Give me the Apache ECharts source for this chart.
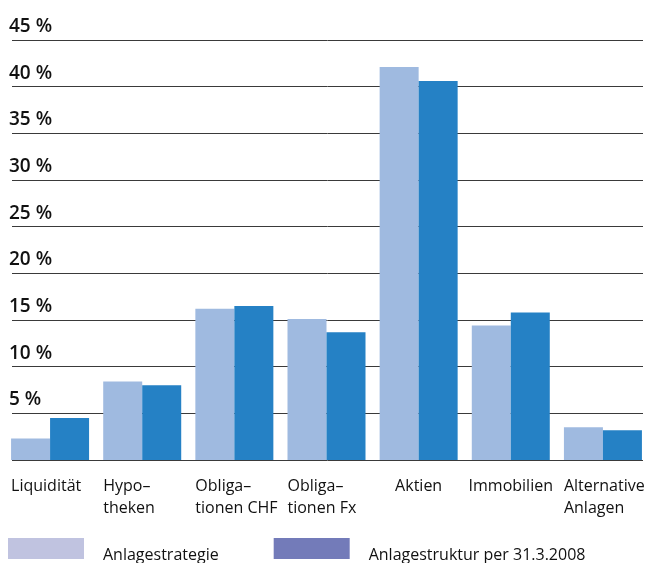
<!DOCTYPE html>
<html>
<head>
<meta charset="utf-8">
<script src="https://cdn.jsdelivr.net/npm/echarts@6/dist/echarts.min.js"></script>
<style>
html,body{margin:0;padding:0;background:#fff;}
#chart{width:649px;height:563px;}
</style>
</head>
<body>
<div id="chart"></div>
<script>
const categories = ['Liquidität', 'Hypo–\ntheken', 'Obliga–\ntionen CHF', 'Obliga–\ntionen Fx', 'Aktien', 'Immobilien', 'Alternative\nAnlagen'];
const seriesNames = ['Anlagestrategie', 'Anlagestruktur per 31.3.2008'];
const anlagestrategie = [2.3, 8.4, 16.2, 15.1, 42.1, 14.4, 3.5];
const anlagestruktur = [4.5, 8.0, 16.5, 13.7, 40.6, 15.8, 3.2];
const yTickValues = [0, 5, 10, 15, 20, 25, 30, 35, 40, 45];
const yTickLabels = ['', '5 %', '10 %', '15 %', '20 %', '25 %', '30 %', '35 %', '40 %', '45 %'];

const FONT = '"Open Sans", sans-serif';
const centeredLabels = ['Aktien', 'Immobilien'];

const chart = echarts.init(document.getElementById('chart'), null, {renderer: 'canvas'});
chart.setOption({
  animation: false,
  backgroundColor: '#ffffff',
  legend: {
    left: 8,
    top: 538,
    padding: 0,
    itemWidth: 76,
    itemHeight: 21,
    itemGap: 55,
    icon: 'rect',
    selectedMode: false,
    formatter: function (name) { return '{a|' + name + '}'; },
    textStyle: {
      fontFamily: FONT, fontSize: 16, color: '#111111', padding: [0, 0, 0, 14],
      rich: {a: {fontFamily: FONT, fontSize: 16, color: '#111111', lineHeight: 30, verticalAlign: 'bottom'}}
    },
    data: [
      {name: seriesNames[0], itemStyle: {color: '#c0c3e0'}},
      {name: seriesNames[1], itemStyle: {color: '#737bb9'}}
    ]
  },
  grid: [
    {left: 12, right: 6, top: 40, bottom: 103},
    {left: 4, right: 0, top: 40, bottom: 103}
  ],
  xAxis: [
    {type: 'value', gridIndex: 0, show: false, min: 0, max: 1},
    {
      type: 'category', gridIndex: 1, data: categories,
      axisLine: {show: false}, axisTick: {show: false},
      axisLabel: {
        interval: 0, margin: 15,
        formatter: function (value) {
          const key = centeredLabels.indexOf(value) >= 0 ? 'c' : 'l';
          return value.split('\n').map(function (s) { return '{' + key + '|' + s + '}'; }).join('\n');
        },
        rich: {
          l: {width: 78, align: 'left', fontFamily: FONT, fontSize: 16, lineHeight: 22, color: '#111111'},
          c: {align: 'center', fontFamily: FONT, fontSize: 16, lineHeight: 22, color: '#111111'}
        }
      }
    }
  ],
  yAxis: [
    {
      type: 'value', gridIndex: 0, min: 0, max: 45, interval: 5,
      axisLine: {show: false}, axisTick: {show: false},
      splitLine: {show: true, lineStyle: {color: '#3a3a3a', width: 1}},
      axisLabel: {
        inside: true, margin: -3, align: 'left', verticalAlign: 'bottom',
        padding: [0, 0, 4, 0],
        fontFamily: FONT, fontSize: 19, fontWeight: 600, color: '#111111',
        formatter: function (v) { return yTickLabels[yTickValues.indexOf(v)]; }
      }
    },
    {type: 'value', gridIndex: 1, min: 0, max: 45, show: false, splitLine: {show: false}}
  ],
  series: [
    {name: seriesNames[0], type: 'bar', xAxisIndex: 1, yAxisIndex: 1, data: anlagestrategie,
     barWidth: 39, barGap: '0%', itemStyle: {color: '#9fbae0'}},
    {name: seriesNames[1], type: 'bar', xAxisIndex: 1, yAxisIndex: 1, data: anlagestruktur,
     barWidth: 39, barGap: '0%', itemStyle: {color: '#2581c5'}}
  ]
});
</script>
</body>
</html>
